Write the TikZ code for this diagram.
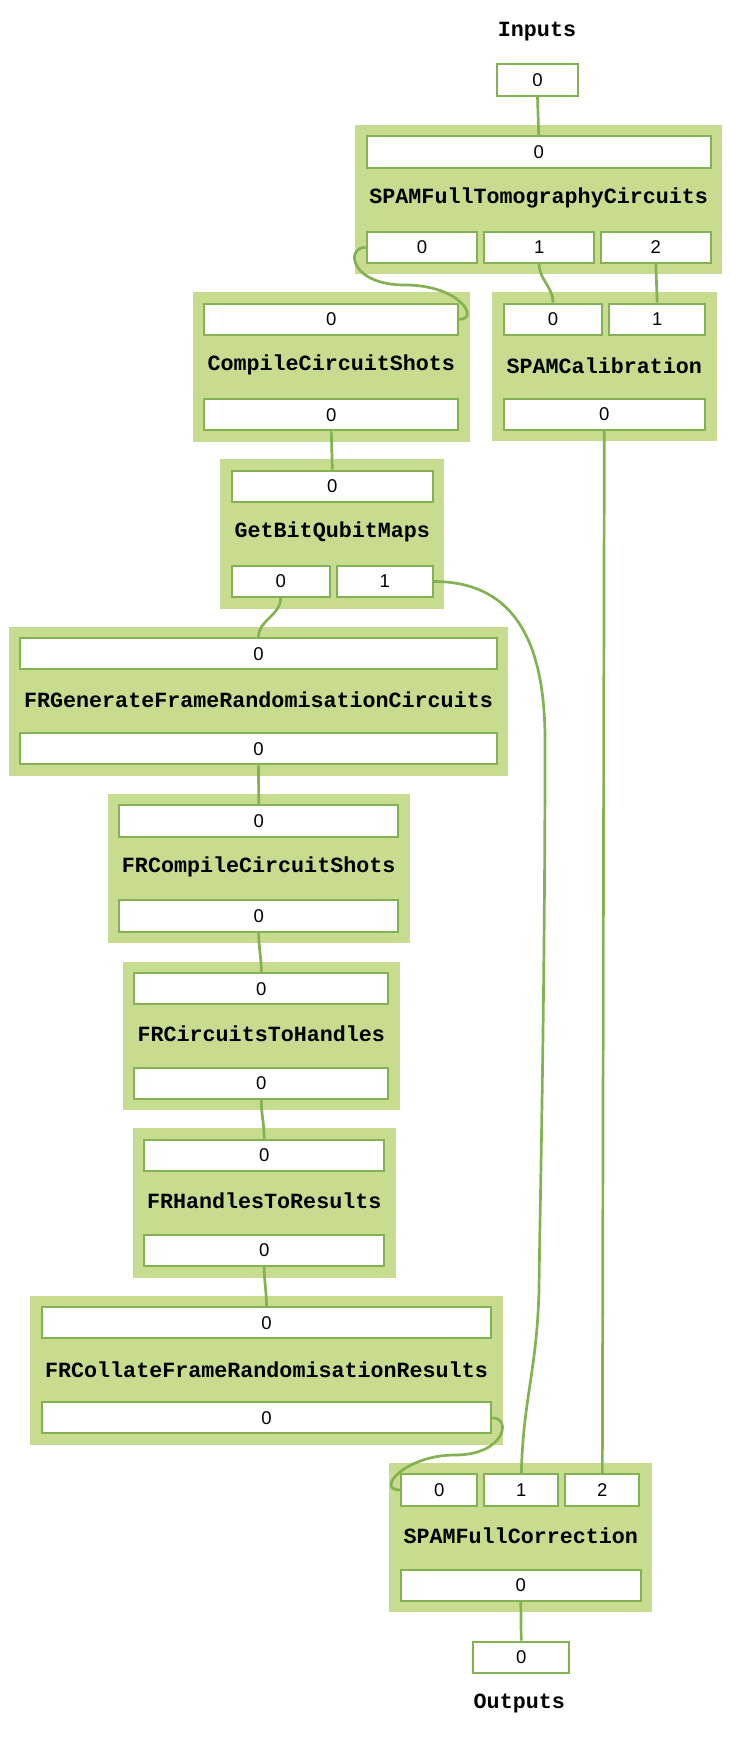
\documentclass[tikz,border=0pt]{standalone}
\usepackage{fontspec}
\usepackage{tikz}
\usetikzlibrary{positioning,fit,backgrounds}
\setmainfont{Liberation Sans}
\newfontfamily\codefont{Liberation Mono}
\definecolor{blockfill}{RGB}{200,220,143}
\definecolor{portline}{RGB}{130,178,82}

\begin{document}
\begin{tikzpicture}[
  x=1pt, y=-1pt,
  port/.style={draw=portline, line width=2pt, fill=white, inner sep=0pt,
               minimum height=31.3pt, font=\fontsize{18.5}{20}\selectfont},
  ttl/.style={font=\codefont\bfseries\fontsize{21.7}{24}\selectfont},
  blk/.style={fill=blockfill, inner sep=10.5pt},
  wire/.style={draw=portline, line width=2.7pt},
]
\useasboundingbox (0,0) rectangle (731,1738);

% Inputs
\node[ttl] (inlbl) at (537,32) {Inputs};
\node[port, minimum width=81pt] (in0) at (537.5,80) {0};

% SPAMFullTomographyCircuits
\node[port, minimum width=344pt] (stc-i0) at (538.7,152) {0};
\node[ttl] (stc-t) at (538.7,198) {SPAMFullTomographyCircuits};
\node[port, minimum width=110.6pt] (stc-o0) at (422,247.3) {0};
\node[port, minimum width=109.7pt, right=5pt of stc-o0] (stc-o1) {1};
\node[port, minimum width=109.7pt, right=5pt of stc-o1] (stc-o2) {2};

% CompileCircuitShots
\node[port, minimum width=254pt] (ccs-i0) at (331.3,319.3) {0};
\node[ttl] (ccs-t) at (331.3,365) {CompileCircuitShots};
\node[port, minimum width=254pt] (ccs-o0) at (331.3,414.7) {0};

% SPAMCalibration
\node[port, minimum width=98.6pt] (cal-i0) at (553,319.2) {0};
\node[port, minimum width=95.7pt, right=5pt of cal-i0] (cal-i1) {1};
\node[ttl] (cal-t) at (604.3,366) {SPAMCalibration};
\node[port, minimum width=201.3pt] (cal-o0) at (604.3,414.3) {0};

% GetBitQubitMaps
\node[port, minimum width=201.3pt] (gbq-i0) at (332.3,486.3) {0};
\node[ttl] (gbq-t) at (332.3,531.7) {GetBitQubitMaps};
\node[port, minimum width=98pt] (gbq-o0) at (280.7,581.5) {0};
\node[port, minimum width=96pt, right=5pt of gbq-o0] (gbq-o1) {1};

% FRGenerateFrameRandomisationCircuits
\node[port, minimum width=476.4pt] (gen-i0) at (258.5,653.7) {0};
\node[ttl] (gen-t) at (258.5,700) {FRGenerateFrameRandomisationCircuits};
\node[port, minimum width=476.4pt] (gen-o0) at (258.5,748.8) {0};

% FRCompileCircuitShots
\node[port, minimum width=278.7pt] (frc-i0) at (258.7,821) {0};
\node[ttl] (frc-t) at (258.7,867.3) {FRCompileCircuitShots};
\node[port, minimum width=278.7pt] (frc-o0) at (258.7,916) {0};

% FRCircuitsToHandles
\node[port, minimum width=254pt] (c2h-i0) at (261.3,988.7) {0};
\node[ttl] (c2h-t) at (261.3,1034) {FRCircuitsToHandles};
\node[port, minimum width=254pt] (c2h-o0) at (261.3,1083.3) {0};

% FRHandlesToResults
\node[port, minimum width=239.7pt] (h2r-i0) at (264.2,1155.3) {0};
\node[ttl] (h2r-t) at (264.2,1200.7) {FRHandlesToResults};
\node[port, minimum width=239.7pt] (h2r-o0) at (264.2,1250.5) {0};

% FRCollateFrameRandomisationResults
\node[port, minimum width=449.6pt] (col-i0) at (266.5,1322.7) {0};
\node[ttl] (col-t) at (266.5,1369.3) {FRCollateFrameRandomisationResults};
\node[port, minimum width=449.6pt] (col-o0) at (266.5,1417.8) {0};

% SPAMFullCorrection
\node[port, minimum width=76.3pt] (cor-i0) at (439.2,1490) {0};
\node[port, minimum width=74pt, right=5pt of cor-i0] (cor-i1) {1};
\node[port, minimum width=74pt, right=5pt of cor-i1] (cor-i2) {2};
\node[ttl] (cor-t) at (520.8,1536) {SPAMFullCorrection};
\node[port, minimum width=239.7pt] (cor-o0) at (520.8,1585.3) {0};

% Outputs
\node[port, minimum width=95.7pt] (out0) at (521.2,1657.3) {0};
\node[ttl] (outlbl) at (519.3,1703.3) {Outputs};

% Task boxes
\begin{scope}[on background layer]
  \node[blk, fit=(stc-i0)(stc-o0)(stc-o2)] (stc) {};
  \node[blk, fit=(ccs-i0)(ccs-o0)] (ccs) {};
  \node[blk, fit=(cal-i0)(cal-i1)(cal-o0)] (cal) {};
  \node[blk, fit=(gbq-i0)(gbq-o0)(gbq-o1)] (gbq) {};
  \node[blk, fit=(gen-i0)(gen-o0)] (gen) {};
  \node[blk, fit=(frc-i0)(frc-o0)] (frc) {};
  \node[blk, fit=(c2h-i0)(c2h-o0)] (c2h) {};
  \node[blk, fit=(h2r-i0)(h2r-o0)] (h2r) {};
  \node[blk, fit=(col-i0)(col-o0)] (col) {};
  \node[blk, fit=(cor-i0)(cor-i2)(cor-o0)] (cor) {};
\end{scope}

% Wires
\coordinate (loopa) at (405,285);
\coordinate (loopb) at (455,1455);
\coordinate (drop) at (545,740);
\coordinate (bend) at (539,1290);
\draw[wire] (in0.south) -- (stc-i0.north);
\draw[wire] (stc-o0.west) .. controls (345,247.3) and (350,285) .. (loopa)
  .. controls (460,285) and (480,319.3) .. (ccs-i0.east);
\draw[wire] (stc-o1.south) to[out=-90, in=90] (cal-i0.north);
\draw[wire] (stc-o2.south) -- (cal-i1.north);
\draw[wire] (ccs-o0.south) -- (gbq-i0.north);
\draw[wire] (gbq-o0.south) to[out=-90, in=90] (gen-i0.north);
\draw[wire] (gbq-o1.east) .. controls +(76,0) and (545,635) .. (drop)
  .. controls (545,1000) and (540,1200) .. (bend)
  .. controls (537,1370) and (523,1400) .. (cor-i1.north);
\draw[wire] (cal-o0.south) -- (cor-i2.north);
\draw[wire] (gen-o0.south) -- (frc-i0.north);
\draw[wire] (frc-o0.south) to[out=-90, in=90] (c2h-i0.north);
\draw[wire] (c2h-o0.south) to[out=-90, in=90] (h2r-i0.north);
\draw[wire] (h2r-o0.south) to[out=-90, in=90] (col-i0.north);
\draw[wire] (col-o0.east) .. controls (512,1417.8) and (505,1455) .. (loopb)
  .. controls (405,1455) and (375,1490) .. (cor-i0.west);
\draw[wire] (cor-o0.south) -- (out0.north);
\end{tikzpicture}
\end{document}
